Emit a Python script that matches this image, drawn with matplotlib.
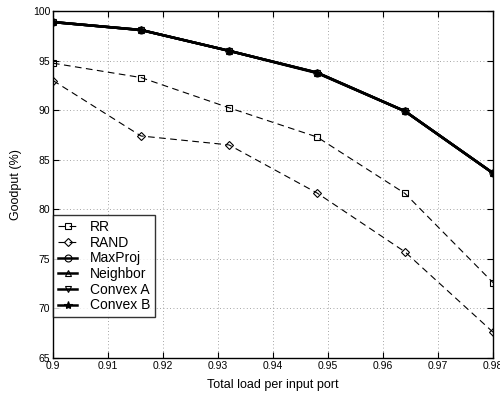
import matplotlib
matplotlib.use("Agg")
import matplotlib.pyplot as plt

load = [0.9, 0.916, 0.932, 0.948, 0.964, 0.98]
rr = [94.75, 93.3, 90.25, 87.3, 81.6, 72.6]
rand = [93.0, 87.4, 86.5, 81.65, 75.7, 67.6]
maxproj = [98.9, 98.1, 96.0, 93.8, 89.9, 83.65]
neighbor = [98.9, 98.1, 96.0, 93.8, 89.9, 83.65]
convex_a = [98.9, 98.1, 96.0, 93.8, 89.9, 83.65]
convex_b = [98.9, 98.1, 96.0, 93.75, 89.9, 83.65]

plt.rcParams['font.family'] = ['Liberation Sans', 'DejaVu Sans']

fig = plt.figure(figsize=(5, 3.99), dpi=100)
ax = fig.add_axes([0.106, 0.103, 0.88, 0.869])

ax.plot(load, rr, linestyle=(0, (6, 4)), linewidth=0.8, color='black', marker='s',
        markersize=5, markerfacecolor='none', markeredgewidth=0.8, label='RR')
ax.plot(load, rand, linestyle=(0, (6, 4)), linewidth=0.8, color='black', marker='D',
        markersize=4.5, markerfacecolor='none', markeredgewidth=0.8, label='RAND')
ax.plot(load, maxproj, linewidth=1.8, color='black', marker='o', markersize=5,
        markerfacecolor='none', markeredgewidth=0.8, label='MaxProj')
ax.plot(load, neighbor, linewidth=1.8, color='black', marker='^', markersize=5,
        markerfacecolor='none', markeredgewidth=0.8, label='Neighbor')
ax.plot(load, convex_a, linewidth=1.8, color='black', marker='v', markersize=5,
        markerfacecolor='none', markeredgewidth=0.8, label='Convex A')
ax.plot(load, convex_b, linewidth=1.8, color='black', marker='*', markersize=6,
        markeredgewidth=0.8, label='Convex B')

ax.set_xlim(0.9, 0.98)
ax.set_ylim(65, 100)
ax.set_xticks([0.9, 0.91, 0.92, 0.93, 0.94, 0.95, 0.96, 0.97, 0.98])
ax.set_xticklabels(['0.9', '0.91', '0.92', '0.93', '0.94', '0.95', '0.96', '0.97', '0.98'])
ax.set_yticks([65, 70, 75, 80, 85, 90, 95, 100])
ax.grid(True, linestyle=(0, (1, 3)), color='#888888', linewidth=0.6)
ax.tick_params(direction='in', top=True, right=True, labelsize=7.5, length=4, pad=2)
for s in ax.spines.values():
    s.set_linewidth(1.0)

ax.set_xlabel('Total load per input port', fontsize=9, labelpad=6)
ax.set_ylabel('Goodput (%)', fontsize=9, labelpad=8)

leg = ax.legend(loc='lower left', bbox_to_anchor=(0.0, 0.117), fontsize=10,
                frameon=True, fancybox=False, edgecolor='black', handlelength=1.4,
                handletextpad=0.9, borderpad=0.35, labelspacing=0.12, borderaxespad=0)
leg.get_frame().set_linewidth(1.0)

fig.savefig('out.png', dpi=100)
